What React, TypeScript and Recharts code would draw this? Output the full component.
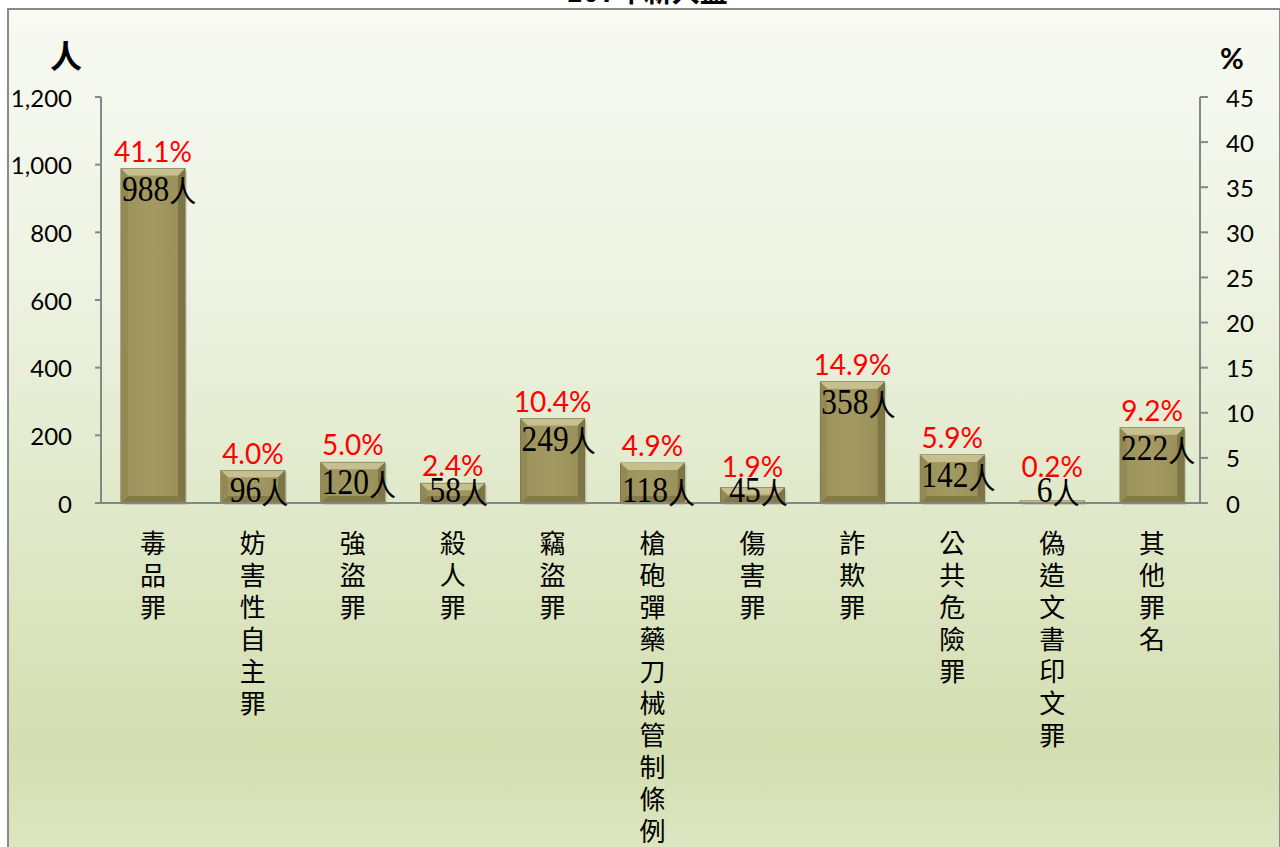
import React from 'react'
import { ComposedChart, Bar, Line, XAxis, YAxis, LabelList } from 'recharts'

const categories = [
  '毒品罪', '妨害性自主罪', '強盜罪', '殺人罪', '竊盜罪', '槍砲彈藥刀械管制條例',
  '傷害罪', '詐欺罪', '公共危險罪', '偽造文書印文罪', '其他罪名',
]
const counts = [988, 96, 120, 58, 249, 118, 45, 358, 142, 6, 222]
const percents = [41.1, 4.0, 5.0, 2.4, 10.4, 4.9, 1.9, 14.9, 5.9, 0.2, 9.2]
const leftTicks = [0, 200, 400, 600, 800, 1000, 1200]
const rightTicks = [0, 5, 10, 15, 20, 25, 30, 35, 40, 45]

const data = categories.map((name, i) => ({ name, count: counts[i], pct: percents[i] }))

const AXIS = '#868686'
const SANS = 'Lato, "Liberation Sans", sans-serif'
const CJK = '"Noto Sans CJK TC", sans-serif'
const NUDGE = 2 // bars sit a touch right of the band centre in the original

function BevelBar(props: any) {
  const { y, width, height } = props
  const x = props.x + NUDGE
  if (!height || height <= 0) return null
  const b = Math.min(7, height / 2, width / 2)
  const x2 = x + width
  const y2 = y + height
  return (
    <g>
      <rect x={x + 2} y={y + 2} width={width} height={height} fill="rgba(0,0,0,0.12)" />
      <rect x={x} y={y} width={width} height={height} fill="#a29862" stroke="#6f6738" strokeWidth={1} />
      <polygon points={`${x},${y} ${x2},${y} ${x2 - b},${y + b} ${x + b},${y + b}`} fill="#c6bf90" />
      <polygon points={`${x},${y} ${x + b},${y + b} ${x + b},${y2 - b} ${x},${y2}`} fill="#928955" />
      <polygon points={`${x2},${y} ${x2},${y2} ${x2 - b},${y2 - b} ${x2 - b},${y + b}`} fill="#7e7546" />
      <polygon points={`${x},${y2} ${x + b},${y2 - b} ${x2 - b},${y2 - b} ${x2},${y2}`} fill="#847a47" />
      {height > 2 * b && (
        <rect x={x + b} y={y + b} width={width - 2 * b} height={height - 2 * b} fill="url(#faceGrad)" />
      )}
    </g>
  )
}

function countCenter(y: number, height: number) {
  return height >= 40 ? y + 20 : y + height - 13
}

function CountLabel(props: any) {
  const { x, y, width, height, value } = props
  const cx = x + NUDGE + width / 2 + 6
  const cy = countCenter(y, height)
  return (
    <text
      transform={`translate(${cx},${cy}) scale(0.9,1)`}
      textAnchor="middle"
      dominantBaseline="central"
      fontFamily='"Liberation Serif", serif'
      fontSize={35}
      fill="#000"
    >
      {value}
      <tspan fontFamily={CJK} fontSize={30}>人</tspan>
    </text>
  )
}

function PctLabel(props: any) {
  const { x, y, width, height, value } = props
  const cy = countCenter(y, height)
  const py = Math.min(y - 18, cy - 24)
  return (
    <text x={x + NUDGE + width / 2} y={py} textAnchor="middle" dominantBaseline="central"
      fontFamily={SANS} fontSize={28} fill="#ff0000">
      {Number(value).toFixed(1)}%
    </text>
  )
}

function CategoryTick(props: any) {
  const { x, payload } = props
  const chars = Array.from(String(payload.value))
  return (
    <g>
      {chars.map((c, i) => (
        <text key={i} x={x + NUDGE} y={541 + i * 32} textAnchor="middle" dominantBaseline="central"
          fontFamily={CJK} fontSize={26} fill="#000">
          {c}
        </text>
      ))}
    </g>
  )
}

function LeftTick(props: any) {
  const { y, payload } = props
  return (
    <text x={72} y={y} textAnchor="end" dominantBaseline="central" fontFamily={SANS} fontSize={24} fill="#000">
      {Number(payload.value).toLocaleString('en-US')}
    </text>
  )
}

function RightTick(props: any) {
  const { y, payload } = props
  return (
    <text x={1226} y={y} textAnchor="start" dominantBaseline="central" fontFamily={SANS} fontSize={24} fill="#000">
      {payload.value}
    </text>
  )
}

export default function App() {
  return (
    <div style={{ position: 'absolute', left: 0, top: 0, width: 1280, height: 847, background: '#fff', overflow: 'hidden' }}>
      <div
        style={{
          position: 'absolute', left: 7, top: 8, width: 1270, height: 860,
          border: '2px solid #8a8a8a',
          background: 'linear-gradient(to bottom, #f8faf3 0%, #eef3e3 30%, #dfe8c8 60%, #d3dfb1 86%, #dee7c5 100%)',
        }}
      />
      <svg width={1280} height={20} style={{ position: 'absolute', left: 0, top: 0 }}>
        <text x={647} y={2} textAnchor="middle" fontFamily={CJK} fontSize={28} fontWeight="bold" fill="#000">
          107年新入監
        </text>
      </svg>
      <div style={{ position: 'absolute', left: 0, top: 0 }}>
        <ComposedChart
          width={1280}
          height={847}
          data={data}
          margin={{ top: 97, right: 20, left: 41, bottom: 314 }}
          barSize={64}
        >
          <defs>
            <linearGradient id="faceGrad" x1="0" y1="0" x2="1" y2="0">
              <stop offset="0%" stopColor="#9d935d" />
              <stop offset="50%" stopColor="#a39963" />
              <stop offset="100%" stopColor="#9a905a" />
            </linearGradient>
          </defs>
          <XAxis
            dataKey="name"
            height={30}
            interval={0}
            tickLine={false}
            axisLine={{ stroke: AXIS, strokeWidth: 2 }}
            tick={<CategoryTick />}
          />
          <YAxis
            yAxisId="left"
            width={60}
            domain={[0, 1200]}
            ticks={leftTicks}
            interval={0}
            tickSize={6}
            axisLine={{ stroke: AXIS, strokeWidth: 2 }}
            tickLine={{ stroke: AXIS, strokeWidth: 2 }}
            tick={<LeftTick />}
          />
          <YAxis
            yAxisId="right"
            orientation="right"
            width={60}
            domain={[0, 45]}
            ticks={rightTicks}
            interval={0}
            tickSize={8}
            axisLine={{ stroke: AXIS, strokeWidth: 2 }}
            tickLine={{ stroke: AXIS, strokeWidth: 2 }}
            tick={<RightTick />}
          />
          <Bar yAxisId="left" dataKey="count" shape={<BevelBar />} isAnimationActive={false}>
            <LabelList dataKey="count" content={<CountLabel />} />
            <LabelList dataKey="pct" content={<PctLabel />} />
          </Bar>
          <Line yAxisId="right" dataKey="pct" stroke="none" dot={false} activeDot={false} isAnimationActive={false} legendType="none" />
          <text x={66} y={54} textAnchor="middle" dominantBaseline="central" fontFamily={CJK} fontSize={32} fontWeight="bold" fill="#000">人</text>
          <text x={1232} y={57} textAnchor="middle" dominantBaseline="central" fontFamily={SANS} fontSize={29} fontWeight="bold" fill="#000">%</text>
        </ComposedChart>
      </div>
    </div>
  )
}
